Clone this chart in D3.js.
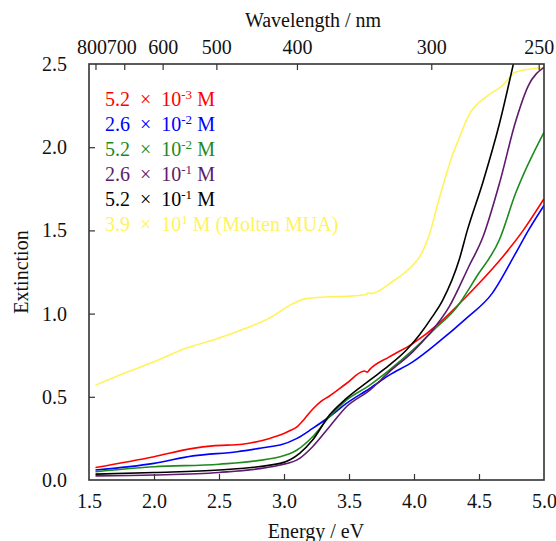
<!DOCTYPE html>
<html>
<head>
<meta charset="utf-8">
<script src="https://cdn.jsdelivr.net/npm/d3@7"></script>
<style>
  html, body { margin: 0; padding: 0; background: #fff; }
  svg text { font-family: "Liberation Serif", "Times New Roman", Tinos, "Noto Serif", "DejaVu Serif", FreeSerif, Times, serif !important; }
</style>
</head>
<body>
<svg id="chart" width="556" height="541"></svg>
<script>
// ---------- data ----------
const redE    = [1.55,2.0,2.3,2.45,2.68,2.89,2.97,3.04,3.1,3.16,3.22,3.28,3.35,3.48,3.62,3.64,3.66,3.81,3.99,4.19,4.4,4.66,4.84,5.0];
const redA    = [0.075,0.14,0.19,0.205,0.215,0.25,0.27,0.295,0.32,0.37,0.425,0.47,0.505,0.58,0.655,0.648,0.665,0.74,0.82,0.94,1.10,1.32,1.50,1.69];
const blueE   = [1.55,2.0,2.3,2.64,2.89,2.97,3.1,3.22,3.35,3.48,3.66,3.81,3.99,4.19,4.4,4.6,4.78,4.88,5.0];
const blueA   = [0.06,0.10,0.145,0.17,0.20,0.21,0.25,0.31,0.38,0.46,0.55,0.63,0.71,0.83,0.97,1.12,1.36,1.50,1.65];
const greenE  = [1.55,2.0,2.5,2.97,3.1,3.22,3.35,3.48,3.66,3.81,3.99,4.15,4.33,4.48,4.66,4.78,5.0];
const greenA  = [0.05,0.08,0.095,0.14,0.18,0.26,0.38,0.48,0.57,0.66,0.78,0.90,1.04,1.22,1.45,1.72,2.09];
const purpleE = [1.55,2.0,2.5,2.97,3.12,3.22,3.35,3.48,3.66,3.81,3.99,4.12,4.27,4.42,4.53,4.66,4.78,4.88,5.0];
const purpleA = [0.025,0.03,0.045,0.09,0.13,0.20,0.32,0.44,0.54,0.65,0.77,0.88,1.04,1.28,1.46,1.79,2.15,2.37,2.48];
const blackE  = [1.55,2.0,2.5,2.97,3.12,3.22,3.35,3.48,3.66,3.81,3.94,4.04,4.14,4.22,4.35,4.41,4.53,4.66,4.77];
const blackA  = [0.035,0.045,0.06,0.10,0.16,0.24,0.39,0.49,0.60,0.69,0.78,0.87,0.98,1.08,1.33,1.50,1.79,2.15,2.52];
const yellowE = [1.55,1.8,2.0,2.24,2.49,2.7,2.88,3.07,3.17,3.32,3.5,3.63,3.65,3.67,3.83,3.99,4.05,4.12,4.19,4.29,4.35,4.42,4.55,4.68,4.78,4.9,5.0];
const yellowA = [0.57,0.65,0.71,0.79,0.85,0.91,0.97,1.06,1.09,1.10,1.105,1.115,1.125,1.12,1.19,1.29,1.35,1.48,1.68,1.94,2.06,2.19,2.30,2.37,2.45,2.47,2.48];

const seriesNames = ["5.2", "2.6", "5.2", "2.6", "5.2", "3.9"];
const seriesExp   = ["-3", "-2", "-2", "-1", "-1", "1"];
const seriesSuffix = [" M", " M", " M", " M", " M", " M (Molten MUA)"];
const seriesColors = ["#ff0000", "#0000ff", "#1e8a1e", "#5e1a6e", "#000000", "#fff35c"];
const seriesE = [redE, blueE, greenE, purpleE, blackE, yellowE];
const seriesA = [redA, blueA, greenA, purpleA, blackA, yellowA];

const xTicks = [1.5, 2.0, 2.5, 3.0, 3.5, 4.0, 4.5, 5.0];
const yTicks = [0.0, 0.5, 1.0, 1.5, 2.0, 2.5];
const wlTicks = [800, 700, 600, 500, 400, 300, 250];

// ---------- layout ----------
const svg = d3.select("#chart");
const L = 89, R = 544, T = 64, B = 480;
const x = d3.scaleLinear().domain([1.5, 5.0]).range([L, R]);
const y = d3.scaleLinear().domain([0, 2.5]).range([B, T]);
const fs = 20;
const FONT = '"Liberation Serif", "Times New Roman", Tinos, "Noto Serif", "DejaVu Serif", FreeSerif, Times, serif';

svg.append("defs").append("clipPath").attr("id", "clip")
  .append("rect").attr("x", L).attr("y", T).attr("width", R - L).attr("height", B - T);

// curves
const line = d3.line().x(d => x(d[0])).y(d => y(d[1])).curve(d3.curveMonotoneX);
const curves = svg.append("g").attr("clip-path", "url(#clip)");
const order = [5, 0, 1, 2, 3, 4];
order.forEach(i => {
  const pts = seriesE[i].map((e, k) => [e, seriesA[i][k]]);
  curves.append("path").attr("d", line(pts))
    .attr("fill", "none").attr("stroke", seriesColors[i]).attr("stroke-width", 1.6);
});

// axes
const frameColor = "#333";
const gBottom = svg.append("g").attr("transform", `translate(0,${B})`)
  .call(d3.axisBottom(x).tickValues(xTicks).tickFormat(d3.format(".1f")).tickSizeInner(-6).tickSizeOuter(0).tickPadding(14));
const gLeft = svg.append("g").attr("transform", `translate(${L},0)`)
  .call(d3.axisLeft(y).tickValues(yTicks).tickFormat(d3.format(".1f")).tickSizeInner(-6).tickSizeOuter(0).tickPadding(22));
const gTop = svg.append("g").attr("transform", `translate(0,${T})`)
  .call(d3.axisTop(x).tickValues(wlTicks.map(w => 1239.84 / w)).tickFormat((d, i) => wlTicks[i])
    .tickSizeInner(-6).tickSizeOuter(0).tickPadding(10));
[gBottom, gLeft, gTop].forEach(g => {
  g.attr("font-family", FONT).attr("font-size", fs);
  g.select(".domain").remove();
  g.selectAll("line").attr("stroke", frameColor).attr("stroke-width", 1.2);
  g.selectAll("text").attr("font-size", fs).attr("fill", "#111").style("font-family", FONT);
});
gBottom.selectAll(".tick").filter(d => d === 1.5 || d === 5.0).select("line").remove();
gLeft.selectAll(".tick").filter(d => d === 0 || d === 2.5).select("line").remove();
gTop.selectAll(".tick text").attr("dx", (d, i) => i === 0 ? -4 : (i === 1 ? -3 : 0));

// frame
svg.append("rect").attr("x", L).attr("y", T).attr("width", R - L).attr("height", B - T)
  .attr("fill", "none").attr("stroke", frameColor).attr("stroke-width", 1.6);

// axis titles
svg.append("text").attr("x", 316).attr("y", 538).attr("text-anchor", "middle")
  .style("font-family", FONT).attr("font-size", fs).attr("fill", "#111").text("Energy / eV");
svg.append("text").attr("x", 313).attr("y", 27).attr("text-anchor", "middle")
  .style("font-family", FONT).attr("font-size", fs).attr("fill", "#111").text("Wavelength / nm");
svg.append("text").attr("transform", "translate(28,272) rotate(-90)").attr("text-anchor", "middle")
  .style("font-family", FONT).attr("font-size", fs).attr("fill", "#111").text("Extinction");

// legend
const leg = svg.append("g");
seriesNames.forEach((n, i) => {
  const t = leg.append("text").attr("x", 105).attr("y", 106 + i * 25)
    .style("font-family", FONT).attr("font-size", fs).attr("fill", seriesColors[i]).attr("xml:space", "preserve");
  t.append("tspan").text(n + "  \u00D7  10");
  t.append("tspan").attr("dy", -7).attr("font-size", 13).text(seriesExp[i]);
  t.append("tspan").attr("dy", 7).text(seriesSuffix[i]);
});
</script>
</body>
</html>
